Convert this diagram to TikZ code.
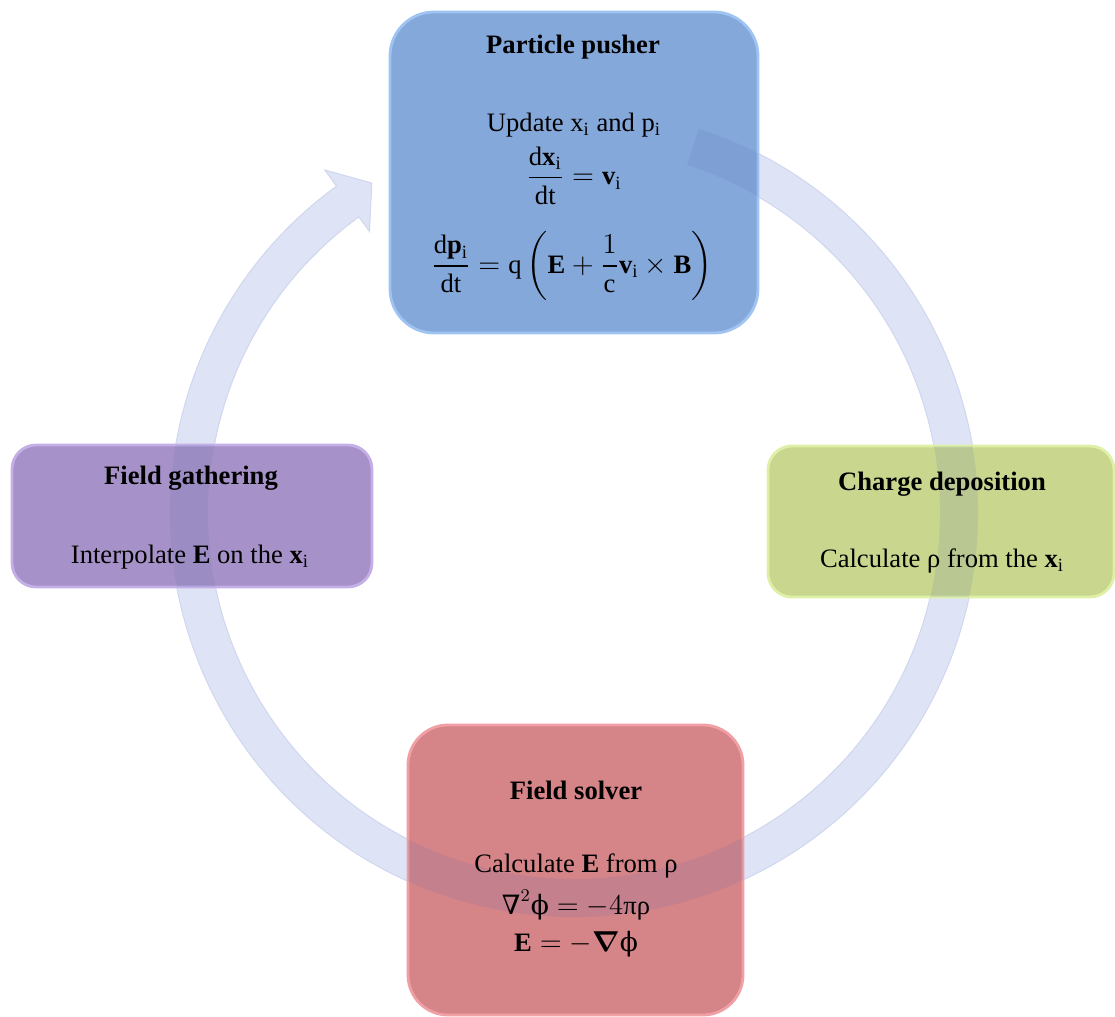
\documentclass[tikz,border=0pt]{standalone}
\usepackage{amsmath}
\usepackage{fontspec}
\setmainfont{Liberation Serif}
\newfontfamily\dvs{DejaVu Serif}
\usetikzlibrary{calc}
\definecolor{ringc}{RGB}{222,228,246}
\definecolor{ringedge}{RGB}{208,215,238}
\definecolor{ringdark}{RGB}{90,105,175}
\definecolor{bluef}{RGB}{132,168,218}
\definecolor{bluer}{RGB}{160,196,242}
\definecolor{purf}{RGB}{166,146,200}
\definecolor{purr}{RGB}{196,176,230}
\definecolor{grnf}{RGB}{200,214,142}
\definecolor{grnr}{RGB}{222,240,165}
\definecolor{redf}{RGB}{213,132,136}
\definecolor{redr}{RGB}{240,160,164}
\newcommand\myringpath{(-72:404) arc[start angle=-72,end angle=234,radius=404] -- (234:424) -- (238.5:387) -- (234:348) -- (234:366) arc[start angle=234,end angle=-72,radius=366] -- cycle}
\newcommand\ttxt{\fontsize{13.3}{16}\selectfont}
\newcommand\phis{\text{\dvs ϕ}}
\begin{document}
\begin{tikzpicture}[x=0.5pt,y=-0.5pt,
  boxst/.style={draw, line width=1.4pt, inner sep=0pt, outer sep=0pt},
  lbl/.style={inner sep=0pt, font=\ttxt, text=black},
  hd/.style={inner sep=0pt, font=\ttxt\bfseries, text=black}]
\useasboundingbox (0,0) rectangle (1115,1017);
% ring beneath
\begin{scope}[shift={(574,513)}]
  \path[fill=ringc, draw=ringedge, line width=0.5pt] \myringpath;
\end{scope}
% boxes
\node[boxst, fill=bluef, draw=bluer, rounded corners=22pt, minimum width=184pt, minimum height=160.5pt] (pp) at (574,172.5) {};
\node[boxst, fill=purf, draw=purr, rounded corners=12pt, minimum width=180pt, minimum height=71pt] (fg) at (192,516) {};
\node[boxst, fill=grnf, draw=grnr, rounded corners=12pt, minimum width=173pt, minimum height=75.5pt] (cd) at (941,521.5) {};
\node[boxst, fill=redf, draw=redr, rounded corners=20pt, minimum width=167.5pt, minimum height=145pt] (fs) at (575.5,870) {};
% ring showing through the boxes
\foreach \bx/\rr in {pp/22pt, fg/12pt, cd/12pt, fs/20pt}{
  \begin{scope}
    \clip[rounded corners=\rr] (\bx.south west) rectangle (\bx.north east);
    \begin{scope}[shift={(574,513)}]
      \path[fill=ringdark, fill opacity=0.13] \myringpath;
    \end{scope}
  \end{scope}
}
% texts: particle pusher
\node[hd] (pph) at (573,47) {Particle pusher};
\node[lbl] (pp1) at (574,125) {Update x\textsubscript{i} and p\textsubscript{i}};
\node[lbl] (pp2) at (574,176) {$\displaystyle \frac{\mathrm{d}\mathbf{x}_{\mathrm{i}}}{\mathrm{dt}} = \mathbf{v}_{\mathrm{i}}$};
\node[lbl] (pp3) at (572,266) {$\displaystyle \frac{\mathrm{d}\mathbf{p}_{\mathrm{i}}}{\mathrm{dt}} = \mathrm{q}\left(\mathbf{E} + \frac{1}{\mathrm{c}}\mathbf{v}_{\mathrm{i}} \times \mathbf{B}\right)$};
% field gathering
\node[hd] (fgh) at (191,478) {Field gathering};
\node[lbl] (fg1) at (190,557) {Interpolate $\mathbf{E}$ on the $\mathbf{x}_{\mathrm{i}}$};
% charge deposition
\node[hd] (cdh) at (942,484) {Charge deposition};
\node[lbl] (cd1) at (942,561) {Calculate ρ from the $\mathbf{x}_{\mathrm{i}}$};
% field solver
\node[hd] (fsh) at (576,790) {Field solver};
\node[lbl] (fs1) at (576,866) {Calculate $\mathbf{E}$ from ρ};
\node[lbl] (fs2) at (576,905) {$\text{\dvs\itshape ∇}^{2}\phis = -4\text{πρ}$};
\node[lbl] (fs3) at (576,944) {$\mathbf{E} = -\boldsymbol{\nabla}\phis$};
\end{tikzpicture}
\end{document}
